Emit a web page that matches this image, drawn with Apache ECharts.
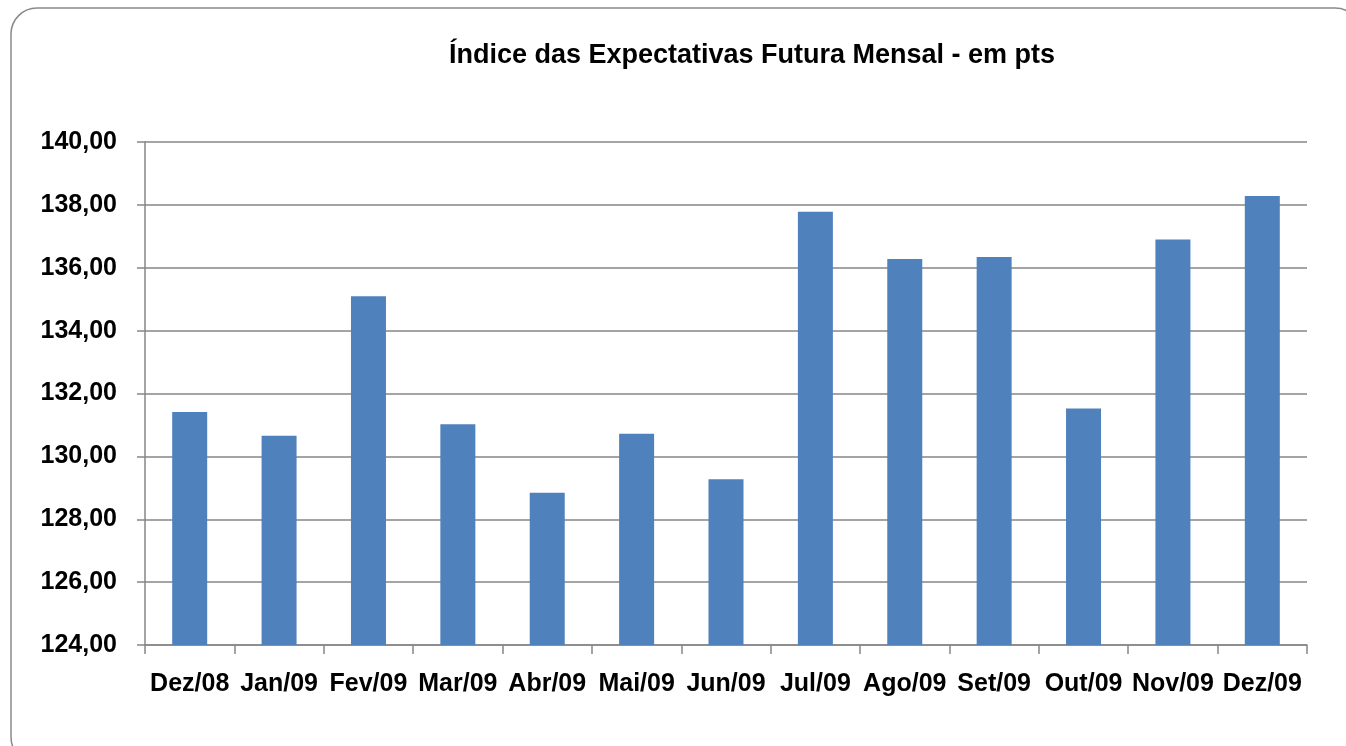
<!DOCTYPE html>
<html>
<head>
<meta charset="utf-8">
<script src="https://cdn.jsdelivr.net/npm/echarts@6/dist/echarts.min.js"></script>
<style>
html,body{margin:0;padding:0;background:#fff;}
#chart{width:1346px;height:746px;}
</style>
</head>
<body>
<div id="chart"></div>
<script>
const titleText = 'Índice das Expectativas Futura Mensal - em pts';
const categories = ['Dez/08','Jan/09','Fev/09','Mar/09','Abr/09','Mai/09','Jun/09','Jul/09','Ago/09','Set/09','Out/09','Nov/09','Dez/09'];
const values = [131.41, 130.66, 135.09, 131.02, 128.84, 130.72, 129.27, 137.78, 136.28, 136.34, 131.52, 136.90, 138.28];
const yMin = 124, yMax = 140, yStep = 2;

const FONT = '"Liberation Sans", Arial, sans-serif';
const chart = echarts.init(document.getElementById('chart'), null, {renderer:'canvas'});
chart.setOption({
  animation: false,
  backgroundColor: '#ffffff',
  graphic: [
    {type:'rect', shape:{x:11, y:8, width:1350, height:755, r:26}, style:{fill:'none', stroke:'#8a8a8a', lineWidth:1.5}, silent:true, z:0},
    {type:'text', x:752, y:56, style:{text:titleText, textAlign:'center', textVerticalAlign:'middle', fill:'#000', font:'bold 27px ' + FONT}, z:10}
  ],
  grid: {left:145, right:39, top:142, bottom:101, containLabel:false},
  xAxis: {
    type:'category',
    data: categories,
    boundaryGap: true,
    axisLine: {show:true, lineStyle:{color:'#868686', width:1.5}},
    axisTick: {show:true, length:9, lineStyle:{color:'#868686', width:1.5}, alignWithLabel:false},
    axisLabel: {interval:0, margin:27, color:'#000', fontWeight:'bold', fontSize:25, fontFamily:FONT},
    splitLine: {show:false}
  },
  yAxis: {
    type:'value',
    min: yMin, max: yMax, interval: yStep,
    axisLine: {show:true, lineStyle:{color:'#868686', width:1.5}},
    axisTick: {show:true, length:8, lineStyle:{color:'#868686', width:1.5}},
    axisLabel: {margin:28, color:'#000', fontWeight:'bold', fontSize:25, fontFamily:FONT,
      formatter: v => v.toFixed(2).replace('.', ',')},
    splitLine: {show:true, lineStyle:{color:'#868686', width:1.5}}
  },
  series: [{
    type:'bar',
    data: values,
    barWidth: 35,
    itemStyle: {color:'#4F81BD'}
  }]
});
</script>
</body>
</html>
